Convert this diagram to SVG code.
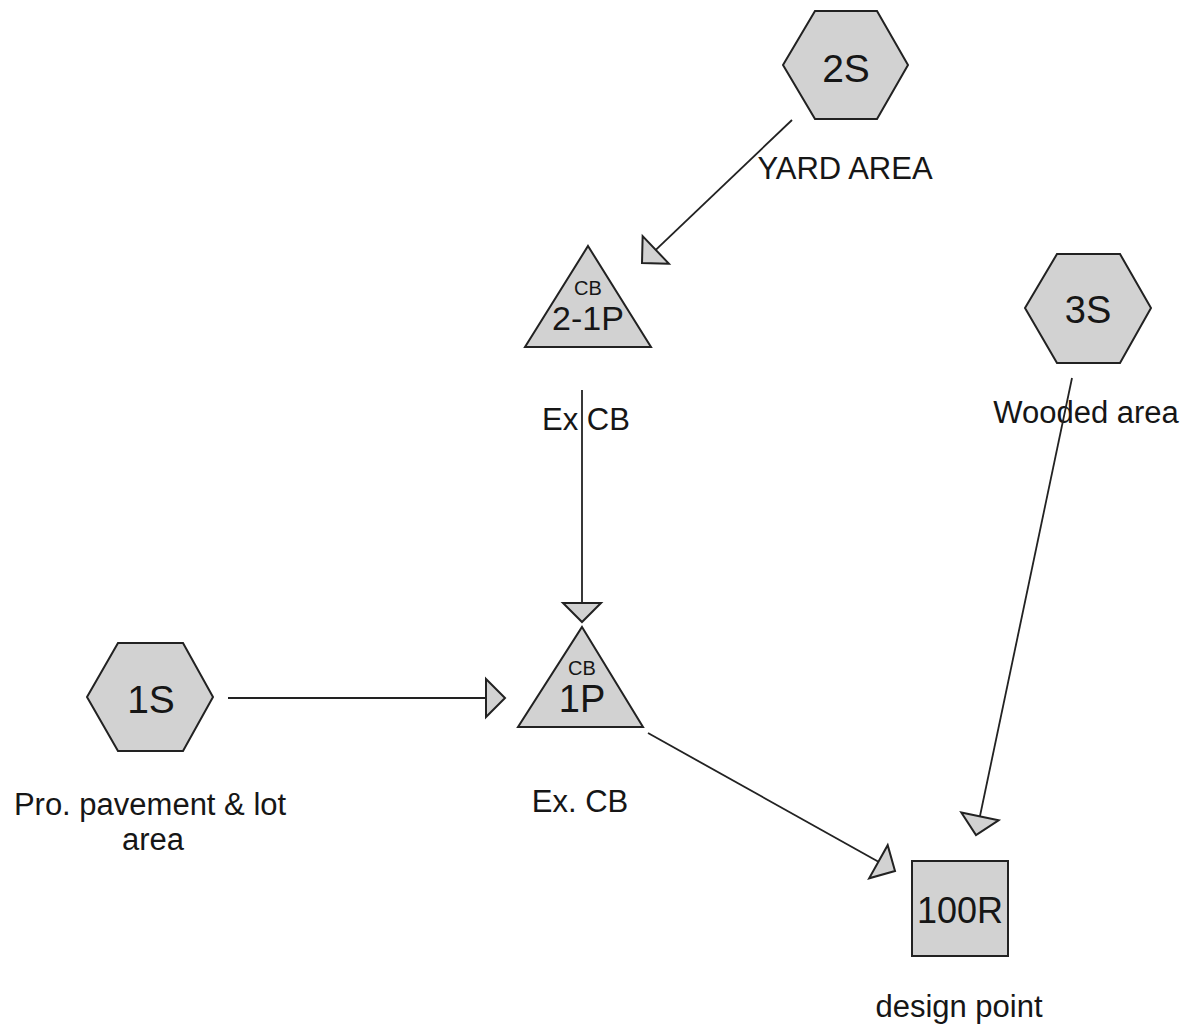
<svg xmlns="http://www.w3.org/2000/svg" width="1188" height="1034" viewBox="0 0 1188 1034">
<style>
.shape{fill:#d2d2d2;stroke:#222;stroke-width:2}
.id{font-family:"Liberation Sans",Arial,sans-serif;fill:#161616;text-anchor:middle}
.lbl{font-family:"Liberation Sans",Arial,sans-serif;fill:#161616;text-anchor:middle;font-size:31px}
.conn{fill:none;stroke:#222;stroke-width:1.8}
</style>
<defs>
<marker id="ah" markerUnits="userSpaceOnUse" viewBox="-2 -22 24 44" refX="19" refY="0" markerWidth="24" markerHeight="44" orient="auto">
<path d="M0,-19 L19,0 L0,19 Z" fill="#d2d2d2" stroke="#222" stroke-width="2" stroke-linejoin="miter"/>
</marker>
</defs>
<rect width="1188" height="1034" fill="#fff"/>
<g id="node-2S">
<polygon class="shape" points="815,11 877,11 908,65 877,119 815,119 783,65"/>
<text class="id" x="846" y="82" font-size="39">2S</text>
<text class="lbl" x="845" y="179" font-size="30">YARD AREA</text>
</g>
<g id="node-3S">
<polygon class="shape" points="1057,254 1120,254 1151,308 1120,363 1057,363 1025,308"/>
<text class="id" x="1088" y="323" font-size="38">3S</text>
<text class="lbl" x="1086" y="423">Wooded area</text>
</g>
<g id="node-1S">
<polygon class="shape" points="118,643 183,643 213,697 183,751 118,751 87,697"/>
<text class="id" x="151" y="713" font-size="39">1S</text>
<text class="lbl" x="150" y="815" font-size="30.5">Pro. pavement &amp; lot</text>
<text class="lbl" x="153" y="850" font-size="30.5">area</text>
</g>
<g id="node-2-1P">
<polygon class="shape" points="588,246 651,347 525,347"/>
<text class="id" x="588" y="295" font-size="20">CB</text>
<text class="id" x="588" y="330" font-size="34">2-1P</text>
<text class="lbl" x="586" y="430" font-size="29">Ex CB</text>
</g>
<g id="node-1P">
<polygon class="shape" points="582,627 643,727 518,727"/>
<text class="id" x="582" y="675" font-size="20">CB</text>
<text class="id" x="582" y="712" font-size="38">1P</text>
<text class="lbl" x="580" y="812">Ex. CB</text>
</g>
<g id="node-100R">
<rect class="shape" x="912" y="861" width="96" height="95"/>
<text class="id" x="960" y="923" font-size="36">100R</text>
<text class="lbl" x="959" y="1017">design point</text>
</g>
<g id="connectors">
<line class="conn" x1="792" y1="120" x2="642" y2="263" marker-end="url(#ah)"/>
<line class="conn" x1="582" y1="390" x2="582" y2="622" marker-end="url(#ah)"/>
<line class="conn" x1="228" y1="698" x2="505" y2="698" marker-end="url(#ah)"/>
<line class="conn" x1="648" y1="733" x2="895" y2="871" marker-end="url(#ah)"/>
<line class="conn" x1="1072" y1="378" x2="976" y2="835" marker-end="url(#ah)"/>
</g>
</svg>
